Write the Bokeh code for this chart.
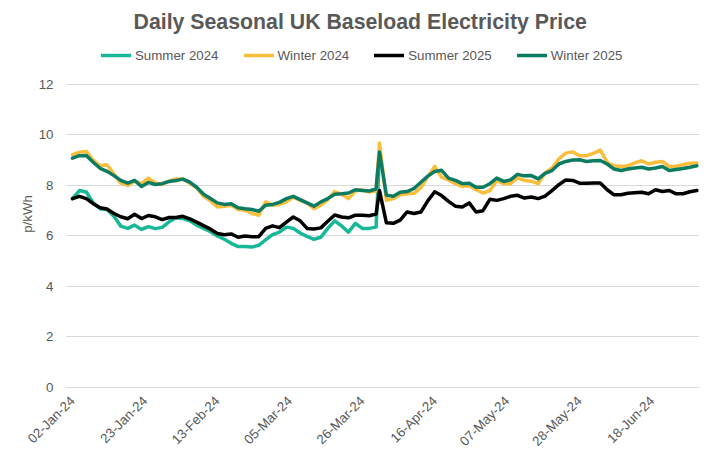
import math
import numpy as np
import pandas as pd
from bokeh.plotting import figure
from bokeh.models import (Legend, LegendItem, FixedTicker, DatetimeTickFormatter,
                          Range1d, ColumnDataSource)
from bokeh.embed import file_html
from bokeh.resources import INLINE

# ---------------- data ----------------
START = "2024-01-02"
# sampling days (offset from START): every 2nd day to the spike, then odd days
day_offsets = list(range(0, 89, 2)) + list(range(89, 182, 2))

summer_2024 = [
    7.48, 7.80, 7.74, 7.31, 7.08, 7.05, 6.78, 6.39, 6.30, 6.43,
    6.26, 6.37, 6.29, 6.34, 6.56, 6.72, 6.69, 6.60, 6.43, 6.30,
    6.17, 6.00, 5.87, 5.71, 5.58, 5.58, 5.56, 5.63, 5.85, 6.05,
    6.15, 6.35, 6.30, 6.12, 5.98, 5.87, 5.95, 6.30, 6.60, 6.40,
    6.15, 6.50, 6.30, 6.30, 6.35,
    9.20,
]

winter_2024 = [
    9.22, 9.32, 9.35, 9.00, 8.78, 8.82, 8.46, 8.09, 8.00, 8.17,
    8.07, 8.29, 8.10, 8.04, 8.17, 8.26, 8.26, 8.09, 7.91, 7.57,
    7.39, 7.15, 7.18, 7.22, 7.05, 7.02, 6.89, 6.82, 7.35, 7.22,
    7.25, 7.35, 7.54, 7.41, 7.31, 7.08, 7.22, 7.44, 7.76, 7.65,
    7.48, 7.78, 7.83, 7.74, 7.78,
    9.68, 7.41, 7.48, 7.63, 7.67, 7.69, 7.91, 8.35, 8.75, 8.33,
    8.22, 8.07, 7.96, 7.99, 7.83, 7.70, 7.80, 8.20, 8.07, 8.07,
    8.30, 8.20, 8.17, 8.07, 8.50, 8.69, 9.05, 9.28, 9.33, 9.18,
    9.18, 9.27, 9.40, 8.92, 8.78, 8.75, 8.78, 8.89, 8.98, 8.85,
    8.92, 8.95, 8.75, 8.76, 8.82, 8.88, 8.89,
]

summer_2025 = [
    7.48, 7.57, 7.48, 7.28, 7.12, 7.07, 6.89, 6.76, 6.68, 6.86,
    6.69, 6.81, 6.76, 6.65, 6.73, 6.73, 6.78, 6.68, 6.55, 6.41,
    6.27, 6.10, 6.05, 6.08, 5.95, 6.00, 5.97, 5.97, 6.30, 6.40,
    6.33, 6.55, 6.75, 6.60, 6.30, 6.28, 6.32, 6.58, 6.83, 6.75,
    6.72, 6.82, 6.82, 6.80, 6.87,
    7.80, 6.52, 6.50, 6.63, 6.95, 6.89, 6.95, 7.39, 7.75, 7.60,
    7.37, 7.18, 7.15, 7.31, 6.95, 7.00, 7.45, 7.41, 7.48, 7.57,
    7.61, 7.50, 7.54, 7.48, 7.58, 7.80, 8.03, 8.22, 8.20, 8.09,
    8.09, 8.10, 8.10, 7.83, 7.63, 7.63, 7.69, 7.71, 7.73, 7.67,
    7.83, 7.76, 7.80, 7.67, 7.67, 7.75, 7.80,
]

winter_2025 = [
    9.08, 9.18, 9.19, 8.92, 8.68, 8.56, 8.39, 8.20, 8.09, 8.20,
    7.96, 8.12, 8.04, 8.07, 8.16, 8.20, 8.25, 8.13, 7.93, 7.65,
    7.48, 7.31, 7.25, 7.28, 7.12, 7.08, 7.05, 6.98, 7.22, 7.25,
    7.33, 7.48, 7.57, 7.44, 7.31, 7.18, 7.35, 7.48, 7.65, 7.67,
    7.70, 7.83, 7.80, 7.78, 7.86,
    9.32, 7.61, 7.57, 7.73, 7.76, 7.88, 8.13, 8.37, 8.55, 8.60,
    8.29, 8.20, 8.07, 8.09, 7.93, 7.93, 8.07, 8.29, 8.16, 8.22,
    8.44, 8.38, 8.39, 8.26, 8.48, 8.59, 8.85, 8.95, 9.01, 9.02,
    8.95, 8.98, 8.99, 8.85, 8.65, 8.59, 8.65, 8.69, 8.72, 8.65,
    8.69, 8.75, 8.59, 8.63, 8.67, 8.72, 8.78,
]

series_names = ["Summer 2024", "Winter 2024", "Summer 2025", "Winter 2025"]
series_colors = ["#17b897", "#fbbd3c", "#000000", "#0b7c61"]

tick_labels = ["02-Jan-24", "23-Jan-24", "13-Feb-24", "05-Mar-24", "26-Mar-24",
               "16-Apr-24", "07-May-24", "28-May-24", "18-Jun-24"]
y_ticks = [0, 2, 4, 6, 8, 10, 12]

# ---------------- figure ----------------
dates = pd.Timestamp(START) + pd.to_timedelta(day_offsets, unit="D")

x_start = pd.Timestamp(START) - pd.Timedelta(days=2.03)
x_end = x_start + pd.Timedelta(days=183.8)

# frame spans 40..387 px vertically; values 0..12 occupy 84..387, room above for legend
p = figure(width=717, height=457, output_backend="svg", toolbar_location=None,
           x_axis_type="datetime",
           x_range=Range1d(x_start, x_end), y_range=Range1d(0, 13.74),
           title="Daily Seasonal UK Baseload Electricity Price",
           min_border_left=65, min_border_right=18,
           min_border_top=40, min_border_bottom=70)

FONT = "Liberation Sans"
GREY = "#595959"

p.title.align = "left"
p.title.offset = 68
p.title.standoff = 13
p.title.text_font = FONT
p.title.text_font_size = "21.3px"
p.title.text_font_style = "bold"
p.title.text_color = GREY

p.outline_line_color = None
p.background_fill_color = "white"
p.border_fill_color = "white"

p.xgrid.grid_line_color = None
p.ygrid.grid_line_color = "#d9d9d9"
p.ygrid.grid_line_width = 1

p.yaxis.ticker = FixedTicker(ticks=y_ticks)
p.yaxis.axis_line_color = None
p.yaxis.major_tick_line_color = None
p.yaxis.minor_tick_line_color = None
p.yaxis.major_label_text_font = FONT
p.yaxis.major_label_text_font_size = "13.3px"
p.yaxis.major_label_text_color = GREY
p.yaxis.major_label_standoff = 6
p.yaxis.axis_label = "p/kWh"
p.yaxis.axis_label_text_font = FONT
p.yaxis.axis_label_text_font_size = "13.3px"
p.yaxis.axis_label_text_font_style = "normal"
p.yaxis.axis_label_text_color = GREY
p.yaxis.axis_label_standoff = 1

tick_ms = [pd.Timestamp(pd.to_datetime(t, format="%d-%b-%y")).value / 1e6 for t in tick_labels]
p.xaxis.ticker = FixedTicker(ticks=tick_ms)
fmt = "%d-%b-%y"
p.xaxis.formatter = DatetimeTickFormatter(days=fmt, months=fmt, years=fmt, hours=fmt,
                                          hourmin=fmt, minutes=fmt, minsec=fmt,
                                          seconds=fmt, milliseconds=fmt, microseconds=fmt)
p.xaxis.axis_line_color = "#d9d9d9"
p.xaxis.major_tick_line_color = None
p.xaxis.minor_tick_line_color = None
p.xaxis.major_label_orientation = math.pi / 4
p.xaxis.major_label_text_font = FONT
p.xaxis.major_label_text_font_size = "13.3px"
p.xaxis.major_label_text_color = GREY
p.xaxis.major_label_standoff = 5

all_series = [summer_2024, winter_2024, summer_2025, winter_2025]
items = []
for name, col, vals in zip(series_names, series_colors, all_series):
    src = ColumnDataSource(dict(x=dates[:len(vals)], y=vals))
    r = p.line("x", "y", source=src, line_color=col, line_width=3.5,
               line_join="round", line_cap="round")
    items.append(LegendItem(label=name, renderers=[r]))

legend = Legend(items=items, orientation="horizontal", location=(36, 322),
                glyph_width=30, glyph_height=20, label_standoff=4, spacing=25,
                padding=0, margin=0,
                label_text_font=FONT, label_text_font_size="13.3px",
                label_text_color=GREY, border_line_color=None,
                background_fill_alpha=0)
p.add_layout(legend)

open("out.html", "w").write(file_html(p, INLINE))
